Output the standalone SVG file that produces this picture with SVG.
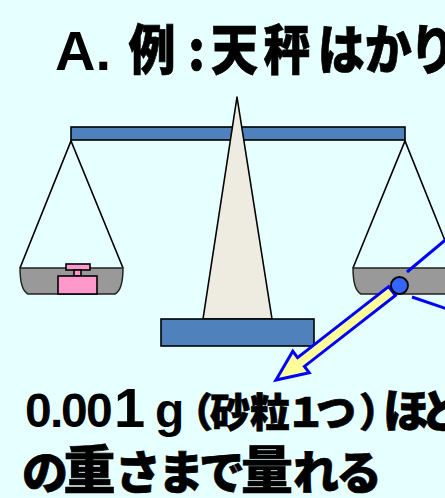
<svg xmlns="http://www.w3.org/2000/svg" width="445" height="498" viewBox="0 0 445 498">
  <style>
    .txt { font-family: "Noto Sans CJK JP", "Noto Sans", sans-serif; font-weight: 900; fill: #000; stroke: #000; stroke-width: 0.7; }
    .lat { font-family: "Liberation Sans", Arial, sans-serif; font-weight: 700; fill: #000; }
    .bar { fill: #4f81bd; stroke: #000; stroke-width: 1.6; }
    .string { fill: none; stroke: #000; stroke-width: 1.6; }
    .pan { fill: #999999; stroke: #222; stroke-width: 1.5; }
    .weight { fill: #ff99cc; stroke: #000; stroke-width: 1.6; }
    .callout { fill: none; stroke: #0000ff; stroke-width: 3; }
  </style>

  <rect width="445" height="498" fill="#e6ffff"/>

  <!-- Title -->
  <g id="title">
    <text class="lat" font-size="56" x="55" y="70">A.</text>
    <text class="txt" font-size="54" y="70" transform="scale(0.87 1)"
          x="147.8 216.3 242.6 303 365.3 419.2 470.9">例:天秤はかり</text>
  </g>

  <!-- Balance beam -->
  <g id="beam">
    <rect class="bar" x="71" y="127" width="334" height="13"/>
  </g>

  <!-- Central pillar (drawn over the beam) -->
  <g id="pillar">
    <polygon points="237,97 272,319 203,319" fill="#eeebe0" stroke="#000" stroke-width="1.6" stroke-linejoin="round"/>
  </g>

  <!-- Base plate -->
  <g id="base">
    <rect class="bar" x="161" y="319" width="153" height="27"/>
  </g>

  <!-- Left pan with weight -->
  <g id="left-pan">
    <polyline class="string" points="20,268 71,141 123,268"/>
    <path class="pan" d="M20,268 L123,268 C123,281 121,291 115,294 L28,294 C22,291 20,281 20,268 Z"/>
    <rect class="weight" x="66" y="264" width="24" height="6"/>
    <rect class="weight" x="74" y="270" width="7" height="6"/>
    <rect class="weight" x="58" y="276" width="39" height="18"/>
  </g>

  <!-- Right pan with sample -->
  <g id="right-pan">
    <polyline class="string" points="353,268 405,141 456,268"/>
    <path class="pan" d="M353,268 L456,268 C456,281 454,291 448,294 L361,294 C355,291 353,281 353,268 Z"/>
  </g>

  <!-- Connectors: magnifier lines and arrow to the caption -->
  <g id="connectors">
    <line class="callout" x1="407" y1="272" x2="450" y2="236"/>
    <line class="callout" x1="412" y1="297" x2="450" y2="310"/>
    <polygon points="388.6,286.6 297.6,357.6 292.8,351.3 276,380 309.2,372.7 304.4,366.4 395.4,295.4"
             fill="#ffff99" stroke="#0000ff" stroke-width="3" stroke-linejoin="miter"/>
  </g>

  <!-- Sample grain -->
  <g id="grain">
    <circle cx="399.5" cy="285.5" r="8.5" fill="#3366ff" stroke="#000" stroke-width="1.8"/>
  </g>

  <!-- Caption -->
  <g id="caption">
    <text class="lat" font-size="48" y="427" x="25 50 61 86">0.00</text>
    <text class="lat" font-size="56" y="427" x="114">1</text>
    <text class="lat" font-size="48" y="427" x="155">g</text>
    <text class="txt" font-size="40" y="427" x="173 210 250 286 316 359">（砂粒１つ）</text>
    <text class="txt" font-size="46" y="427" x="383 421">ほど</text>
    <text class="txt" font-size="46" y="489" x="22">の</text>
    <text class="txt" font-size="52" y="489" x="63.5">重</text>
    <text class="txt" font-size="46" y="489" x="115 158 199">さまで</text>
    <text class="txt" font-size="52" y="489" x="241">量</text>
    <text class="txt" font-size="46" y="489" x="293 336">れる</text>
  </g>
</svg>
